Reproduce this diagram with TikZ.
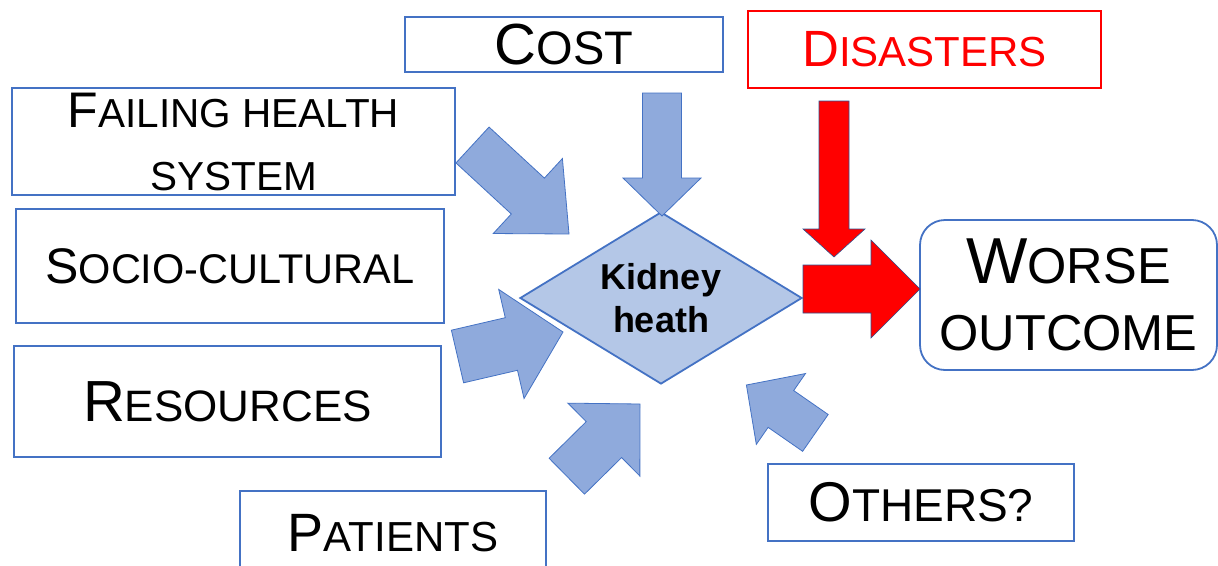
\documentclass[tikz,border=0pt]{standalone}
\usepackage{fontspec}
\setmainfont{Liberation Sans}
\usetikzlibrary{calc,shapes.geometric}

\definecolor{boxblue}{HTML}{4472C4}
\definecolor{arrowblue}{HTML}{8FAADC}
\definecolor{diamondblue}{HTML}{B4C7E7}
\definecolor{arrowedge}{HTML}{2F528F}

\tikzset{
  factor/.style={draw=boxblue, line width=1.8pt, inner sep=0pt, align=center},
  kidney/.style={diamond, draw=boxblue, fill=diamondblue, line width=1.8pt, aspect=1.64,
    minimum width=282pt, minimum height=172pt, inner sep=0pt, align=center,
    font=\fontsize{36}{43}\selectfont\bfseries},
  fatarrow/.style={fill=arrowblue, draw=boxblue, line width=0.8pt},
  redarrow/.style={fill=red, draw=arrowedge, line width=0.6pt},
}

% maiuscoletto: prima lettera grande, resto piccolo
\newcommand{\sccap}[4]{{\fontsize{#1}{#1}\selectfont #3}{\fontsize{#2}{#2}\selectfont #4}}

% freccia piena: stile, coda, punta, mezza asta, mezza testa, lunghezza testa
\newcommand{\blockarrow}[6]{%
  \path ($(#3)!#6!(#2)$) coordinate (hb);
  \draw[#1] ($(#2)!#4!90:(#3)$) -- ($(hb)!#4!90:(#3)$) -- ($(hb)!#5!90:(#3)$) -- (#3)
    -- ($(hb)!#5!-90:(#3)$) -- ($(hb)!#4!-90:(#3)$) -- ($(#2)!#4!-90:(#3)$) -- cycle;
}

\begin{document}
\begin{tikzpicture}[x=1pt, y=-1pt]
    % Sfondo
    \path[use as bounding box, fill=white] (0,0) rectangle (1218,565);
    \clip (0,0) rectangle (1218,565);

    % Centro
    \node[kidney] (kidney) at (661,298) {Kidney\\heath};

    % Fattori
    \node[factor, minimum width=318pt, minimum height=55pt] (cost) at (564,44.5) {\sccap{58}{47}{C}{OST}};
    \node[factor, draw=red, text=red, minimum width=353pt, minimum height=77pt] (disasters) at (924.5,49.5) {\sccap{51}{42}{D}{ISASTERS}};
    \node[factor, line width=2.4pt, minimum width=443pt, minimum height=107pt, font=\fontsize{40.5}{63}\selectfont] (failing) at (233.5,141.5) {\sccap{50}{40.5}{F}{AILING HEALTH}\\SYSTEM};
    \node[factor, minimum width=428pt, minimum height=114pt] (socio) at (230,266) {\sccap{50}{41.5}{S}{OCIO-CULTURAL}};
    \node[factor, minimum width=427pt, minimum height=111pt] (resources) at (227.5,401.5) {\sccap{58}{44}{R}{ESOURCES}};
    \node[factor, minimum width=306pt, minimum height=84pt] (patients) at (393,533) {\sccap{54}{42}{P}{ATIENTS}};
    \node[factor, minimum width=306pt, minimum height=77pt] (others) at (921,502.5) {\sccap{56}{46}{O}{THERS?}};
    \node[factor, rounded corners=25pt, minimum width=297pt, minimum height=150pt, font=\fontsize{50.5}{67}\selectfont] (outcome) at (1068.5,295) {\sccap{65}{50.5}{W}{ORSE}\\OUTCOME};

    % Frecce blu
    \coordinate (cost-tail) at (662,93); \coordinate (cost-tip) at (662,216);
    \blockarrow{fatarrow}{cost-tail}{cost-tip}{19.5pt}{39pt}{38pt}
    \coordinate (failing-tail) at (472.5,145); \coordinate (failing-tip) at (569,234);
    \blockarrow{fatarrow}{failing-tail}{failing-tip}{24.4pt}{51pt}{56pt}
    \coordinate (socio-tail) at (457.5,356.5); \coordinate (socio-tip) at (563,332);
    \blockarrow{fatarrow}{socio-tail}{socio-tip}{27pt}{56pt}{53pt}
    \coordinate (patients-tail) at (566.8,476.2); \coordinate (patients-tip) at (640,404);
    \blockarrow{fatarrow}{patients-tail}{patients-tip}{25.2pt}{51.2pt}{50.7pt}
    \coordinate (others-tail) at (815.4,432.9); \coordinate (others-tip) at (746.4,385);
    \blockarrow{fatarrow}{others-tail}{others-tip}{22.4pt}{43.1pt}{42pt}

    % Frecce rosse
    \coordinate (disasters-tail) at (834,101); \coordinate (disasters-tip) at (834,257);
    \blockarrow{redarrow}{disasters-tail}{disasters-tip}{15pt}{31pt}{28pt}
    \coordinate (outcome-tail) at (803,289); \coordinate (outcome-tip) at (920,289);
    \blockarrow{redarrow}{outcome-tail}{outcome-tip}{24pt}{49pt}{49pt}

\end{tikzpicture}
\end{document}
